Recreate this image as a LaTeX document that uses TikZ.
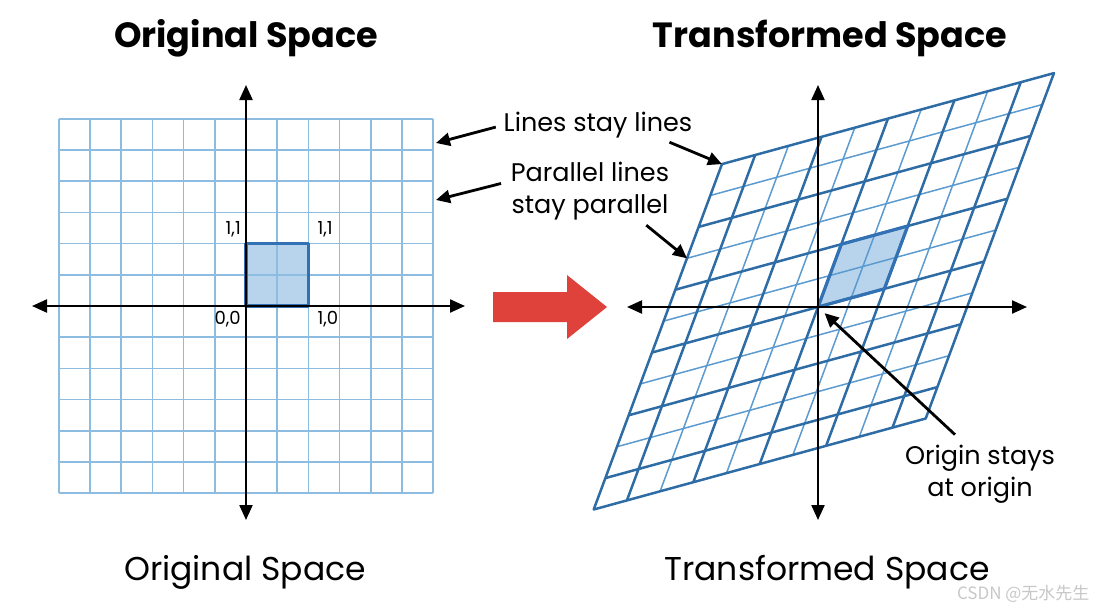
\documentclass[tikz,border=0pt]{standalone}
\usepackage{fontspec}
\setmainfont{Poppins}
\newfontfamily\cjkfont{Noto Sans CJK SC}
\usepackage{tikz}
\usetikzlibrary{arrows.meta}
\definecolor{gridblue}{RGB}{140,188,224}
\definecolor{sheardark}{RGB}{46,108,165}
\definecolor{shearlight}{RGB}{92,155,208}
\definecolor{unitfill}{RGB}{184,212,237}
\definecolor{unitedge}{RGB}{50,114,180}
\definecolor{bigred}{RGB}{223,66,58}

\begin{document}
\begin{tikzpicture}[
  x=1pt,y=-1pt,
  gridline/.style={draw=gridblue,line width=1.5pt},
  shearthin/.style={draw=shearlight,line width=1.5pt},
  shearthick/.style={draw=sheardark,line width=2.5pt,line join=round},
  unitbox/.style={draw=unitedge,line width=3.2pt,line join=round},
  axis/.style={{Triangle[length=15pt,width=13pt]}-{Triangle[length=15pt,width=13pt]},line width=2.2pt},
  pointer/.style={-{Triangle[length=14pt,width=13pt]},line width=2.8pt},
  heading/.style={font=\fontsize{35}{40}\selectfont\bfseries},
  caption/.style={font=\fontsize{33}{38}\selectfont},
  note/.style={font=\fontsize{25.5}{32}\selectfont,align=center,inner sep=0pt},
  coord/.style={font=\fontsize{18}{20}\selectfont,inner sep=0pt}
]
\useasboundingbox (0,0) rectangle (1100,614);

% original grid
\begin{scope}[shift={(246,306)},x={(31.2pt,0pt)},y={(0pt,31.2pt)}]
  \fill[unitfill] (0,0) rectangle (2,2);
  \foreach \k in {-6,...,6} {
    \draw[gridline] (\k,-6) -- (\k,6);
    \draw[gridline] (-6,\k) -- (6,\k);
  }
  \draw[unitbox] (0,0) rectangle (2,2);
  \coordinate (origO) at (0,0);
  \coordinate (origX) at (2,0);
  \coordinate (origXY) at (2,2);
  \coordinate (origY) at (0,2);
\end{scope}
\node[coord,anchor=south east,xshift=-5pt,yshift=6pt] (lblY) at (origY) {1,1};
\node[coord,anchor=south west,xshift=9pt,yshift=6pt] (lblXY) at (origXY) {1,1};
\node[coord,anchor=north east,xshift=-5pt,yshift=-5pt] (lblO) at (origO) {0,0};
\node[coord,anchor=north west,xshift=9pt,yshift=-5pt] (lblX) at (origX) {1,0};

\coordinate (origLeft) at (32,306);
\coordinate (origRight) at (465,306);
\coordinate (origTop) at (246,85);
\coordinate (origBottom) at (246,520);
\draw[axis] (origLeft) -- (origRight);
\draw[axis] (origTop) -- (origBottom);

% transformed grid
\begin{scope}[shift={(818,307)},x={(33.2pt,9.1pt)},y={(11.66pt,31.4pt)}]
  \fill[unitfill] (0,0) -- (2,0) -- (2,2) -- (0,2) -- cycle;
  \foreach \u in {-3,-1,1,3} \draw[shearthin] (\u,-5) -- (\u,6);
  \foreach \v in {-3,-1,1,3,5} \draw[shearthin] (-5,\v) -- (5,\v);
  \foreach \u in {-4,-2,0,2,4} \draw[shearthick] (\u,-5) -- (\u,6);
  \foreach \v in {-4,-2,0,2,4} \draw[shearthick] (-5,\v) -- (5,\v);
  \draw[shearthick] (-5,-5) -- (5,-5) -- (5,6) -- (-5,6) -- cycle;
  \draw[unitbox] (0,0) -- (2,0) -- (2,2) -- (0,2) -- cycle;
  \coordinate (shearO) at (0,0);
  \coordinate (shearTL) at (-5,6);
  \coordinate (shearEdge) at (-5,3);
\end{scope}

\coordinate (shearLeft) at (627,307);
\coordinate (shearRight) at (1027,307);
\coordinate (shearTop) at (818,85);
\coordinate (shearBottom) at (818,520);
\draw[axis] (shearLeft) -- (shearRight);
\draw[axis] (shearTop) -- (shearBottom);

% red arrow
\fill[bigred] (493,292) -- (567,292) -- (567,275) -- (607,307) -- (567,339)
  -- (567,322) -- (493,322) -- cycle;

% titles
\node[heading,anchor=base] (origTitle) at (246,47) {Original Space};
\node[heading,anchor=base] (shearTitle) at (830,47) {Transformed Space};
\node[caption,anchor=base] (origCaption) at (245,580) {Original Space};
\node[caption,anchor=base] (shearCaption) at (827,580) {Transformed Space};

% notes
\node[note] (linesNote) at (598,125) {Lines stay lines};
\node[note] (parNote) at (590,191) {Parallel lines\\stay parallel};
\node[note] (originNote) at (980,474) {Origin stays\\at origin};
\coordinate (edgeA) at (436,143);
\coordinate (edgeB) at (436,200);
\draw[pointer,shorten <=8pt] (linesNote.west) -- (edgeA);
\draw[pointer,shorten <=10pt] ([yshift=10pt]parNote.west) -- (edgeB);
\draw[pointer] ([xshift=-23pt,yshift=-4pt]linesNote.south east) -- (shearTL);
\draw[pointer] ([xshift=-23pt,yshift=-5pt]parNote.south east) -- (shearEdge);
\draw[pointer,shorten >=9pt] ([xshift=-25pt,yshift=10pt]originNote.north) -- (shearO);

\node[font=\cjkfont\fontsize{17}{20}\selectfont,text=black!22,anchor=east] (mark) at (1093,594) {CSDN @无水先生};
\end{tikzpicture}
\end{document}
